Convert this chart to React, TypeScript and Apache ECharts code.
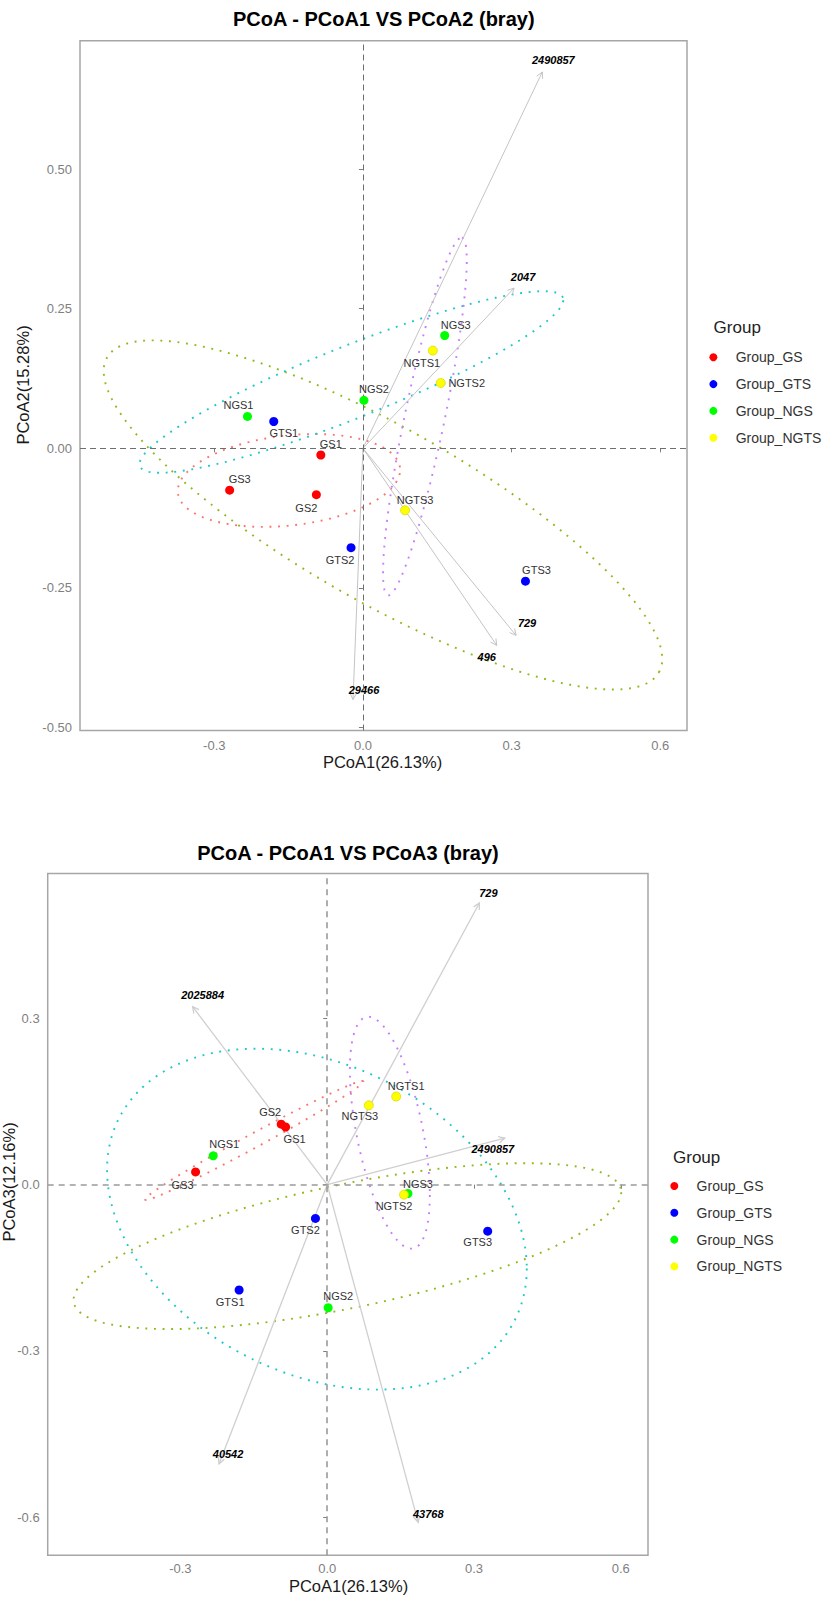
import React, { useEffect, useRef } from "react";
import * as echarts from "echarts";

const FONT = '"Liberation Sans", Arial, Helvetica, sans-serif';

// ---------- data ----------
const groups = ["Group_GS", "Group_GTS", "Group_NGS", "Group_NGTS"];
const sampleNames = [
  ["GS1", "GS2", "GS3"],
  ["GTS1", "GTS2", "GTS3"],
  ["NGS1", "NGS2", "NGS3"],
  ["NGTS1", "NGTS2", "NGTS3"],
];
const pc1 = [
  [-0.085, -0.094, -0.269],
  [-0.18, -0.024, 0.328],
  [-0.233, 0.002, 0.165],
  [0.141, 0.157, 0.085],
];
const pc2 = [
  [-0.012, -0.083, -0.075],
  [0.048, -0.178, -0.238],
  [0.057, 0.086, 0.202],
  [0.175, 0.117, -0.111],
];
const pc3 = [
  [0.104, 0.109, 0.023],
  [-0.19, -0.061, -0.084],
  [0.052, -0.222, -0.016],
  [0.159, -0.018, 0.143],
];

// species arrows (loadings)
const arrowNames12 = ["2490857", "2047", "729", "496", "29466"];
const arrowPc1_12 = [0.362, 0.305, 0.309, 0.27, -0.02];
const arrowPc2_12 = [0.674, 0.287, -0.335, -0.353, -0.45];
const arrowNames13 = ["729", "2025884", "2490857", "40542", "43768"];
const arrowPc1_13 = [0.311, -0.275, 0.363, -0.221, 0.186];
const arrowPc3_13 = [0.508, 0.321, 0.084, -0.5035, -0.609];

// confidence ellipses: centre (cx, cy) and conjugate semi-axes u, v
const ellipse12 = [
  [-0.1493, -0.0576, 0.224, 0.0233, -0.0123, 0.0798],
  [0.0404, -0.1194, 0.5569, -0.2819, 0.0869, 0.1352],
  [-0.0232, 0.1187, 0.4268, 0.1512, -0.027, 0.0598],
  [0.1251, 0.0569, 0.0747, 0.3203, 0.0395, -0.0072],
];
const ellipse13 = [
  [-0.1493, 0.0797, 0.223, 0.1067, -0.0067, 0.0112],
  [0.0413, -0.1109, 0.5596, 0.0973, 0, -0.1136],
  [-0.021, -0.0622, 0.4289, -0.0892, 0, -0.2942],
  [0.128, 0.0937, 0.0817, -0.1125, 0, -0.1763],
];

const xTicks = [-0.3, 0, 0.3, 0.6];
const yTicks12 = [-0.5, -0.25, 0, 0.25, 0.5];
const yTicks13 = [-0.6, -0.3, 0, 0.3];

// ---------- styles ----------
const pointColors = ["#FF0000", "#0000FF", "#00FF00", "#FFFF00"];
const ellipseColors = ["#F8766D", "#8DBA1E", "#1FC7CB", "#C77CFF"];
const labelOffsets12 = [
  [[10, -11], [-10, 13], [10, -11]],
  [[10, 12], [-11, 12], [11, -11]],
  [[-9, -11], [10, -11], [11, -11]],
  [[-11, 12], [26, 0], [10, -10]],
];
const labelOffsets13 = [
  [[9, 12], [-11, -12], [-13, 13]],
  [[-9, 12], [-10, 12], [-10, 11]],
  [[11, -12], [10, -12], [10, -10]],
  [[10, -10], [-10, 11], [-9, 11]],
];
const arrowLabelOffsets12 = [[11, -12], [9, -11], [11, -12], [-10, 12], [11, -10]];
const arrowLabelOffsets13 = [[9, -10], [10, -12], [-12, 11], [9, -10], [10, -8]];

function axisX(gridIndex: number, min: number, max: number, margin: number) {
  return {
    type: "value",
    gridIndex,
    min,
    max,
    splitLine: { show: false },
    axisLine: { show: false },
    axisTick: {
      show: true,
      length: 4,
      customValues: xTicks,
      lineStyle: { color: "#7F7F7F", width: 1 },
    },
    axisLabel: {
      customValues: xTicks,
      formatter: (v: number) => v.toFixed(1),
      color: "#7F7F7F",
      fontSize: 13,
      fontFamily: FONT,
      margin,
    },
  };
}

function axisY(gridIndex: number, min: number, max: number, ticks: number[], dec: number) {
  return {
    type: "value",
    gridIndex,
    min,
    max,
    splitLine: { show: false },
    axisLine: { show: false },
    axisTick: {
      show: true,
      length: 4,
      customValues: ticks,
      lineStyle: { color: "#7F7F7F", width: 1 },
    },
    axisLabel: {
      customValues: ticks,
      formatter: (v: number) => v.toFixed(dec),
      color: "#7F7F7F",
      fontSize: 13,
      fontFamily: FONT,
      margin: 8,
    },
  };
}

function ellipseSeries(params: number[][], idx: number) {
  return {
    type: "custom",
    xAxisIndex: idx,
    yAxisIndex: idx,
    z: 2,
    silent: true,
    clip: true,
    data: params,
    renderItem: (p: any, api: any) => {
      const cx = api.value(0);
      const cy = api.value(1);
      const ux = api.value(2);
      const uy = api.value(3);
      const vx = api.value(4);
      const vy = api.value(5);
      const pts: number[][] = [];
      for (let k = 0; k <= 240; k++) {
        const t = (2 * Math.PI * k) / 240;
        pts.push(
          api.coord([cx + ux * Math.cos(t) + vx * Math.sin(t), cy + uy * Math.cos(t) + vy * Math.sin(t)])
        );
      }
      return {
        type: "polyline",
        shape: { points: pts },
        style: {
          stroke: ellipseColors[p.dataIndex],
          lineWidth: 1.9,
          lineDash: [1.9, 6.7],
          fill: "none",
        },
      };
    },
  };
}

function arrowSeries(
  xs: number[],
  ys: number[],
  names: string[],
  offs: number[][],
  idx: number,
  color: string,
  lw: number
) {
  return {
    type: "custom",
    xAxisIndex: idx,
    yAxisIndex: idx,
    z: 3,
    silent: true,
    data: xs.map((x, i) => [x, ys[i]]),
    renderItem: (p: any, api: any) => {
      const o = api.coord([0, 0]);
      const e = api.coord([api.value(0), api.value(1)]);
      const ang = Math.atan2(e[1] - o[1], e[0] - o[0]);
      const L = 7;
      const h = 0.48;
      const a1 = [e[0] - L * Math.cos(ang - h), e[1] - L * Math.sin(ang - h)];
      const a2 = [e[0] - L * Math.cos(ang + h), e[1] - L * Math.sin(ang + h)];
      const off = offs[p.dataIndex];
      return {
        type: "group",
        children: [
          {
            type: "line",
            shape: { x1: o[0], y1: o[1], x2: e[0], y2: e[1] },
            style: { stroke: color, lineWidth: lw },
          },
          {
            type: "polyline",
            shape: { points: [a1, e, a2] },
            style: { stroke: color, lineWidth: lw, fill: "none" },
          },
          {
            type: "text",
            x: e[0] + off[0],
            y: e[1] + off[1],
            style: {
              text: names[p.dataIndex],
              fill: "#000",
              fontSize: 11,
              fontWeight: "bold",
              fontStyle: "italic",
              fontFamily: FONT,
              align: "center",
              verticalAlign: "middle",
            },
          },
        ],
      };
    },
  };
}

function pointSeries(ys: number[][], offs: number[][][], idx: number) {
  return groups.map((g, gi) => ({
    type: "scatter",
    name: g,
    xAxisIndex: idx,
    yAxisIndex: idx,
    z: 5,
    symbol: "circle",
    symbolSize: 9,
    itemStyle: {
      color: pointColors[gi],
      borderColor: gi === 3 ? "#D4D400" : pointColors[gi],
      borderWidth: gi === 3 ? 0.7 : 0,
      opacity: 1,
    },
    label: {
      show: true,
      position: "inside",
      formatter: "{b}",
      fontSize: 11,
      fontFamily: FONT,
      color: "#333333",
    },
    data: sampleNames[gi].map((n, i) => ({
      name: n,
      value: [pc1[gi][i], ys[gi][i]],
      label: { offset: offs[gi][i] },
    })),
  }));
}

function zeroSeries(idx: number, color: string, width: number, dash: number[]) {
  return {
    type: "line",
    name: "zero" + idx,
    xAxisIndex: idx,
    yAxisIndex: idx,
    data: [],
    z: 1,
    markLine: {
      silent: true,
      symbol: ["none", "none"],
      label: { show: false },
      lineStyle: { color, width, type: dash },
      data: [{ xAxis: 0 }, { yAxis: 0 }],
    },
  };
}

function legendCfg(left: number, top: number) {
  return {
    data: groups,
    orient: "vertical",
    left,
    top,
    padding: 0,
    icon: "circle",
    itemWidth: 34.6,
    itemHeight: 8,
    itemGap: 12.8,
    selectedMode: false,
    itemStyle: { borderWidth: 0 },
    textStyle: { fontSize: 14, fontFamily: FONT, color: "#333333", lineHeight: 14 },
  };
}

function txt(x: number, y: number, text: string, size: number, opts: any = {}) {
  return {
    type: "text",
    x,
    y,
    rotation: opts.rotation || 0,
    silent: true,
    style: {
      text,
      fill: opts.color || "#1A1A1A",
      fontSize: size,
      fontWeight: opts.bold ? "bold" : "normal",
      fontFamily: FONT,
      align: opts.align || "center",
      verticalAlign: "middle",
    },
  };
}

function buildOption() {
  return {
    animation: false,
    backgroundColor: "#FFFFFF",
    grid: [
      {
        left: 80,
        top: 40.8,
        width: 607,
        height: 689.7,
        show: true,
        borderColor: "#A6A6A6",
        borderWidth: 1.5,
        backgroundColor: "transparent",
        outerBoundsMode: "none",
      },
      {
        left: 47.7,
        top: 873.6,
        width: 600.3,
        height: 681.7,
        show: true,
        borderColor: "#A6A6A6",
        borderWidth: 1.5,
        backgroundColor: "transparent",
        outerBoundsMode: "none",
      },
    ],
    xAxis: [axisX(0, -0.571, 0.654, 8), axisX(1, -0.5712, 0.6556, 7)],
    yAxis: [
      axisY(0, -0.5054, 0.7298, yTicks12, 2),
      axisY(1, -0.6685, 0.561, yTicks13, 1),
    ],
    legend: [legendCfg(709.4, 350.3), legendCfg(670.3, 1179)],
    graphic: [
      txt(383.8, 18.8, "PCoA - PCoA1 VS PCoA2 (bray)", 20, { bold: true, color: "#000" }),
      txt(348, 852.5, "PCoA - PCoA1 VS PCoA3 (bray)", 20, { bold: true, color: "#000" }),
      txt(382.5, 761.5, "PCoA1(26.13%)", 16.5),
      txt(23, 385, "PCoA2(15.28%)", 16.5, { rotation: Math.PI / 2 }),
      txt(348.5, 1586, "PCoA1(26.13%)", 16.5),
      txt(9, 1182, "PCoA3(12.16%)", 16.5, { rotation: Math.PI / 2 }),
      txt(713.6, 327, "Group", 17, { align: "left", color: "#222" }),
      txt(673, 1157, "Group", 17, { align: "left", color: "#222" }),
    ],
    series: [
      zeroSeries(0, "#6E6E6E", 1, [6, 4]),
      zeroSeries(1, "#9A9A9A", 1.6, [6, 5]),
      ellipseSeries(ellipse12, 0),
      ellipseSeries(ellipse13, 1),
      arrowSeries(arrowPc1_12, arrowPc2_12, arrowNames12, arrowLabelOffsets12, 0, "#C4C4C4", 1),
      arrowSeries(arrowPc1_13, arrowPc3_13, arrowNames13, arrowLabelOffsets13, 1, "#CFCFCF", 1.3),
      ...pointSeries(pc2, labelOffsets12, 0),
      ...pointSeries(pc3, labelOffsets13, 1),
    ],
  };
}

export default function App() {
  const ref = useRef<HTMLDivElement>(null);
  useEffect(() => {
    if (!ref.current) return;
    const chart = echarts.init(ref.current, null, { renderer: "svg" });
    chart.setOption(buildOption() as any);
    return () => chart.dispose();
  }, []);
  return (
    <div
      ref={ref}
      style={{ position: "absolute", left: 0, top: 0, width: 839, height: 1598, background: "#FFFFFF" }}
    />
  );
}
